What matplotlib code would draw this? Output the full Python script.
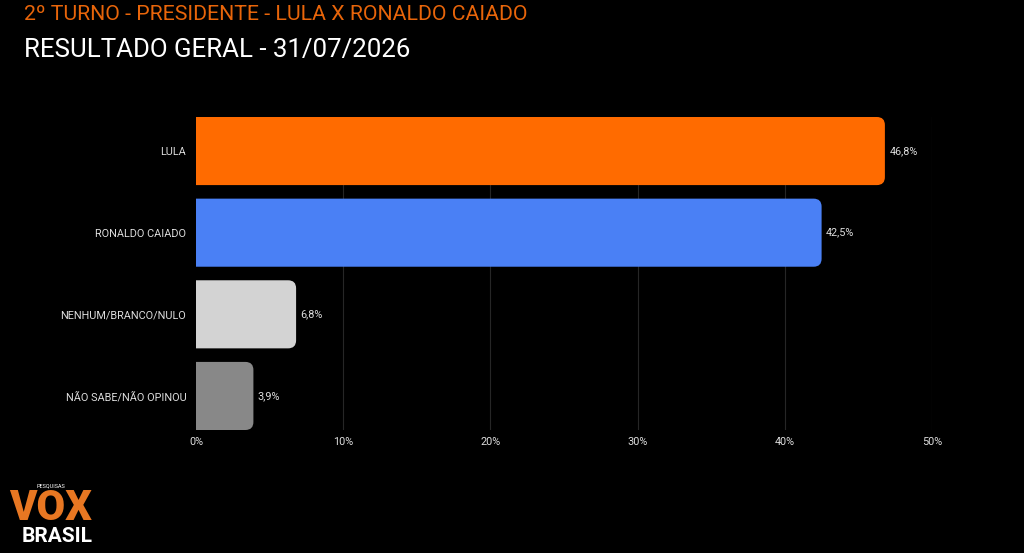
import matplotlib
matplotlib.use("Agg")
import matplotlib.pyplot as plt
from matplotlib.patches import FancyBboxPatch

categories = ["LULA", "RONALDO CAIADO", "NENHUM/BRANCO/NULO", "NÃO SABE/NÃO OPINOU"]
values = [46.8, 42.5, 6.8, 3.9]
value_labels = ["46,8%", "42,5%", "6,8%", "3,9%"]
colors = ["#FF6B00", "#4A80F5", "#D3D3D3", "#888888"]
xticks = [0, 10, 20, 30, 40, 50]
xtick_labels = ["0%", "10%", "20%", "30%", "40%", "50%"]

plt.rcParams['font.family'] = ['Roboto', 'DejaVu Sans']

fig = plt.figure(figsize=(10.24, 5.53), dpi=100, facecolor="black")
ax = fig.add_axes([196/1024, 123/553, 736/1024, 313/553], facecolor="black")

ax.set_xlim(0, 50)
ax.set_ylim(3.417, -0.417)
bar_h = 0.834

px_x = 736 / 50
px_y = 313 / 3.834
r_px = 8
r = r_px / px_x
aspect = (r_px / px_y) / r

for i, (v, c) in enumerate(zip(values, colors)):
    p = FancyBboxPatch((-r * 2, i - bar_h / 2), v + r * 2, bar_h,
                       boxstyle=f"round,pad=0,rounding_size={r}",
                       mutation_aspect=aspect, facecolor=c, edgecolor="none",
                       zorder=3)
    p.set_clip_path(ax.patch)
    ax.add_patch(p)
    ax.text(v + 0.3, i, value_labels[i], color="#DDDDDD", fontsize=7.8,
            va="center", ha="left", zorder=4)

ax.set_xticks(xticks)
ax.set_xticklabels(xtick_labels, color="#DDDDDD", fontsize=7.8)
ax.set_yticks(range(len(categories)))
ax.set_yticklabels(categories, color="#DDDDDD", fontsize=7.8)
ax.tick_params(axis="both", length=0)
ax.tick_params(axis="y", pad=7)
ax.tick_params(axis="x", pad=5)
for x in xticks[1:]:
    ax.axvline(x, color="#262626", lw=0.8, zorder=1)
for s in ax.spines.values():
    s.set_visible(False)

fig.text(24/1024, 1 - 14/553, "2º TURNO - PRESIDENTE - LULA X RONALDO CAIADO",
         color="#E8650A", fontsize=15.3, va="center", ha="left")
fig.text(24/1024, 1 - 50/553, "RESULTADO GERAL - 31/07/2026",
         color="white", fontsize=18.6, va="center", ha="left")

# logo
fig.text(51/1024, 1 - 486/553, "PESQUISAS", color="white", fontsize=4,
         ha="center", va="center")
fig.text(51/1024, 1 - 508/553, "VOX", color="#E87722", fontsize=30,
         fontweight="black", ha="center", va="center")
fig.text(57/1024, 1 - 537/553, "BRASIL", color="white", fontsize=15,
         fontweight="bold", ha="center", va="center")

fig.savefig("out.png", dpi=100, facecolor="black")
